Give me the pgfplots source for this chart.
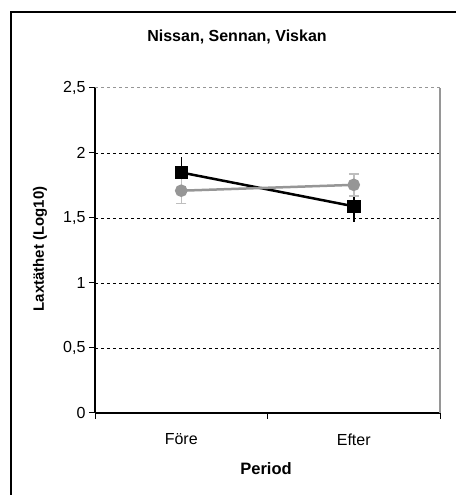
\documentclass[border=0pt]{standalone}
\usepackage{pgfplots}
\pgfplotsset{compat=1.18}
\usepackage{fontspec}
\setmainfont{Liberation Sans}
\definecolor{sergray}{RGB}{150,150,150}
\definecolor{errgray}{RGB}{190,190,190}
\begin{document}
\begin{tikzpicture}[x=1pt,y=1pt]
\useasboundingbox (0,0) rectangle (456,495);
\draw[line width=2pt] (11,0) -- (11,483) -- (456,483);
\begin{axis}[
    at={(95pt,82pt)}, anchor=south west,
    scale only axis, width=345pt, height=325pt,
    xmin=-0.5, xmax=1.5, ymin=0, ymax=2.5,
    axis lines*=left,
    axis line style={line width=1.2pt, black},
    tick align=outside,
    major tick length=6pt, minor tick length=6pt,
    xtick={0,1}, xticklabels={Före,Efter},
    major x tick style={draw=none},
    minor xtick={-0.5,0.5,1.5},
    minor x tick style={line width=1pt, black},
    ytick={0,0.5,1,1.5,2},
    yticklabels={0,{0{,}5},1,{1{,}5},2},
    extra y ticks={2.5}, extra y tick labels={2{,}5},
    extra y tick style={grid style={sergray, line width=1pt, dash pattern=on 3pt off 3pt}},
    y tick style={line width=1pt, black},
    ymajorgrids,
    grid style={black, line width=0.8pt, dash pattern=on 3pt off 3pt},
    ticklabel style={font=\fontsize{16}{18}\selectfont},
    xticklabel style={yshift=-11pt},
    clip=false,
]
\addplot[black, line width=2.5pt, mark=square*, mark size=5.5pt,
    error bars/.cd, y dir=both, y explicit,
    error bar style={line width=1.5pt, black}, error mark=none]
    coordinates {(0,1.85) +- (0,0.12) (1,1.59) +- (0,0.12)};
\addplot[sergray, line width=2.5pt, mark=*, mark size=5pt,
    error bars/.cd, y dir=both, y explicit,
    error bar style={line width=1.5pt, errgray},
    error mark options={rotate=90, mark size=5pt, line width=1.5pt, errgray}]
    coordinates {(0,1.71) +- (0,0.1) (1,1.755) +- (0,0.085)};
\draw[sergray, line width=1.5pt] (rel axis cs:1,0) -- (rel axis cs:1,1);
\end{axis}
\node[font=\bfseries\fontsize{16}{18}\selectfont] at (237,458) {Nissan, Sennan, Viskan};
\node[font=\bfseries\fontsize{15}{18}\selectfont, rotate=90] at (40,246) {Laxtäthet (Log10)};
\node[font=\bfseries\fontsize{16.5}{18}\selectfont] at (266,26) {Period};
\end{tikzpicture}
\end{document}
